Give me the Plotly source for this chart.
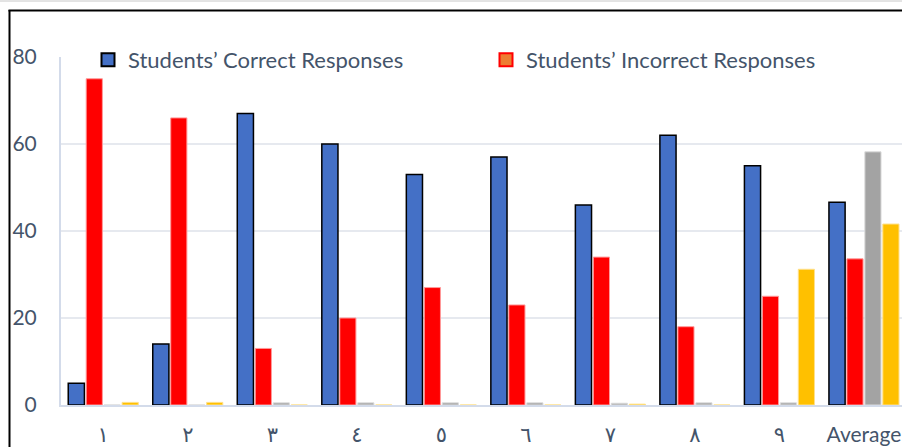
import plotly.graph_objects as go

categories = ["١", "٢", "٣", "٤", "٥", "٦", "٧", "٨", "٩", "Average"]
correct = [5, 14, 67, 60, 53, 57, 46, 62, 55, 46.6]
incorrect = [75, 66, 13, 20, 27, 23, 34, 18, 25, 33.6]
series3 = [0, 0, 0.5, 0.5, 0.5, 0.5, 0.4, 0.5, 0.5, 58.2]
series4 = [0.6, 0.6, 0, 0, 0, 0, 0.2, 0, 31.2, 41.6]
y_ticks = [0, 20, 40, 60, 80]

W, H = 902, 447
ML, MR, MT, MB = 61, 0, 57, 42
PW, PH = W - ML - MR, H - MT - MB

FONT = "Lato, 'DejaVu Sans', sans-serif"
TXT = "#44546A"

fig = go.Figure()
fig.add_trace(go.Bar(x=categories, y=correct, name="Students’ Correct Responses",
                     marker=dict(color="#4470C6", line=dict(color="#000000", width=1.5)),
                     showlegend=False))
fig.add_trace(go.Bar(x=categories, y=incorrect, name="Students’ Incorrect Responses",
                     marker=dict(color="#FF0000", line=dict(color="#FF9A9A", width=1)),
                     showlegend=False))
fig.add_trace(go.Bar(x=categories, y=series3, name="s3",
                     marker=dict(color="#A3A3A3", line=dict(color="#DADADA", width=1)),
                     showlegend=False))
fig.add_trace(go.Bar(x=categories, y=series4, name="s4",
                     marker=dict(color="#FFC000", line=dict(color="#FFE08A", width=1)),
                     showlegend=False))
# legend entries
fig.add_trace(go.Scatter(x=[categories[0]], y=[None], mode="markers", name="Students’ Correct Responses",
                         marker=dict(symbol="square", size=13, color="#4470C6",
                                     line=dict(color="#000000", width=2))))
fig.add_trace(go.Scatter(x=[categories[0]], y=[None], mode="markers", name="Students’ Incorrect Responses",
                         marker=dict(symbol="square", size=13, color="#ED7D31",
                                     line=dict(color="#FF0000", width=2))))

def px_x(p):
    return (p - ML) / PW

def px_y(p):
    return (H - MB - p) / PH

shapes = [
    dict(type="line", xref="paper", yref="paper", x0=px_x(9.5), x1=px_x(9.5), y0=px_y(10), y1=px_y(447),
         line=dict(color="#000000", width=2)),
    dict(type="line", xref="paper", yref="paper", x0=px_x(8.5), x1=px_x(902), y0=px_y(10.5), y1=px_y(10.5),
         line=dict(color="#000000", width=2)),
    dict(type="line", xref="paper", yref="paper", x0=px_x(0), x1=px_x(902), y0=px_y(1), y1=px_y(1),
         line=dict(color="#C8C8C8", width=1)),
]

fig.update_layout(
    width=W, height=H,
    margin=dict(l=ML, r=MR, t=MT, b=MB, autoexpand=False),
    paper_bgcolor="white", plot_bgcolor="white",
    barmode="group", bargap=0.15, bargroupgap=0.1,
    font=dict(family=FONT, color=TXT),
    shapes=shapes,
    legend=dict(orientation="h", xref="paper", yref="paper",
                x=px_x(88), y=px_y(39), xanchor="left", yanchor="top",
                font=dict(size=22, color=TXT, family=FONT),
                entrywidth=353, entrywidthmode="pixels",
                bgcolor="rgba(0,0,0,0)"),
    xaxis=dict(range=[-0.5, 9.45], showgrid=False, showline=True, linecolor="#D3DBEA", linewidth=2,
               ticks="", tickfont=dict(size=21, color=TXT, family=FONT), ticklabelstandoff=10,
               fixedrange=True),
    yaxis=dict(range=[0, 80], tickvals=y_ticks, showgrid=True, gridcolor="#E6E9EF", gridwidth=1.5,
               showline=True, linecolor="#D3DBEA", linewidth=2, zeroline=False,
               ticks="", tickfont=dict(size=21, color=TXT, family=FONT), ticklabelstandoff=18,
               fixedrange=True),
)

fig.write_html("out.html")
